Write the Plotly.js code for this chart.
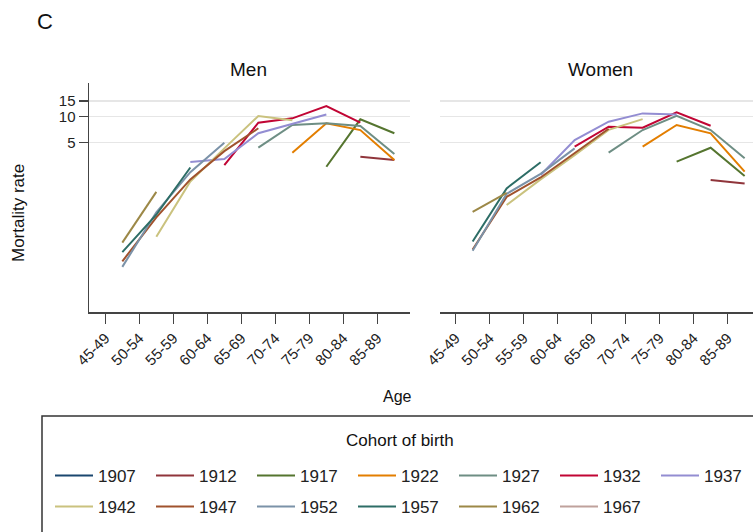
<!DOCTYPE html>
<html><head><meta charset="utf-8">
<script src="https://cdn.plot.ly/plotly-3.0.1.min.js"></script>
<style>html,body{margin:0;padding:0;background:#fff}#chart{width:753px;height:532px}</style>
</head><body><div id="chart"></div>
<script>
// Age groups: data plotted at the midpoint of each 5-year group
const ageMid = [47.5, 52.5, 57.5, 62.5, 67.5, 72.5, 77.5, 82.5, 87.5];
const ageTickVals = [45, 50, 55, 60, 65, 70, 75, 80, 85];
const ageTickText = ['45-49', '50-54', '55-59', '60-64', '65-69', '70-74', '75-79', '80-84', '85-89'];
const rateTickVals = [5, 10, 15];
const cohorts = ['1907', '1912', '1917', '1922', '1927', '1932', '1937', '1942', '1947', '1952', '1957', '1962', '1967'];
const cohortColors = ['#1a476f', '#90353b', '#55752f', '#e37e00', '#6e8e84', '#c10534', '#938dd2',
                      '#cac27e', '#a0522d', '#7b92a8', '#2d6d66', '#9c8847', '#bfa19c'];

// Men, mortality rate by age group (null = cohort not observed)
const men1907 = [null, null, null, null, null, null, null, null, 3.0];
const men1912 = [null, null, null, null, null, null, null, 3.45, 3.17];
const men1917 = [null, null, null, null, null, null, 2.65, 9.24, 6.4];
const men1922 = [null, null, null, null, null, 3.84, 8.32, 6.96, 3.17];
const men1927 = [null, null, null, null, 4.38, 7.95, 8.32, 7.74, 3.71];
const men1932 = [null, null, null, 2.77, 8.45, 9.49, 13.1, 8.45, null];
const men1937 = [null, null, 3.0, 3.25, 6.4, 8.2, 10.5, null, null];
const men1942 = [null, 0.42, 1.8, 4.3, 10.1, 9.0, null, null, null];
const men1947 = [0.22, 0.7, 1.9, 4.0, 7.3, null, null, null, null];
const men1952 = [0.19, 0.8, 2.3, 5.0, null, null, null, null, null];
const men1957 = [0.28, 0.75, 2.6, null, null, null, null, null, null];
const men1962 = [0.36, 1.37, null, null, null, null, null, null, null];
const men1967 = [0.24, null, null, null, null, null, null, null, null];

// Women
const women1907 = [null, null, null, null, null, null, null, null, 1.5];
const women1912 = [null, null, null, null, null, null, null, 1.87, 1.71];
const women1917 = [null, null, null, null, null, null, 3.03, 4.37, 2.08];
const women1922 = [null, null, null, null, null, 4.5, 7.96, 6.4, 2.33];
const women1927 = [null, null, null, null, 3.84, 6.97, 10.1, 6.97, 3.31];
const women1932 = [null, null, null, 4.5, 7.6, 7.4, 11.1, 7.8, null];
const women1937 = [null, null, 2.13, 5.36, 8.68, 10.8, 10.5, null, null];
const women1942 = [null, 0.97, 1.9, 3.6, 7.0, 9.3, null, null, null];
const women1947 = [0.30, 1.2, 2.0, 3.8, 7.2, null, null, null, null];
const women1952 = [0.29, 1.3, 2.2, 4.3, null, null, null, null, null];
const women1957 = [0.37, 1.5, 2.98, null, null, null, null, null, null];
const women1962 = [0.81, 1.33, null, null, null, null, null, null, null];
const women1967 = [0.3, null, null, null, null, null, null, null, null];

const menSeries = [men1907, men1912, men1917, men1922, men1927, men1932, men1937,
                   men1942, men1947, men1952, men1957, men1962, men1967];
const womenSeries = [women1907, women1912, women1917, women1922, women1927, women1932, women1937,
                     women1942, women1947, women1952, women1957, women1962, women1967];

const W = 753, H = 532;
const px = v => v / W;
const py = v => 1 - v / H;
const FONT = 'Liberation Sans, Arial, Helvetica, sans-serif';

const traces = [];
cohorts.forEach((c, i) => {
  traces.push({
    x: ageMid, y: menSeries[i], mode: 'lines', name: c, legendgroup: c,
    legend: i < 7 ? 'legend' : 'legend2',
    line: {color: cohortColors[i], width: 2}, xaxis: 'x', yaxis: 'y',
    connectgaps: false, hoverinfo: 'skip'
  });
});
cohorts.forEach((c, i) => {
  traces.push({
    x: ageMid, y: womenSeries[i], mode: 'lines', name: c, legendgroup: c, showlegend: false,
    line: {color: cohortColors[i], width: 2}, xaxis: 'x2', yaxis: 'y2',
    connectgaps: false, hoverinfo: 'skip'
  });
});

const xCommon = {
  tickmode: 'array', tickvals: ageTickVals, ticktext: ageTickText, tickangle: -45,
  ticks: 'outside', ticklen: 10, tickwidth: 1.5, tickcolor: '#444',
  showline: true, linecolor: '#444', linewidth: 1.5, showgrid: false, zeroline: false,
  tickfont: {family: FONT, size: 15, color: '#222'}, fixedrange: true
};
const yCommon = {
  type: 'log', range: [-1.237, 1.381], domain: [py(312), py(83)],
  tickmode: 'array', tickvals: rateTickVals, ticktext: rateTickVals.map(String),
  showgrid: true, gridcolor: '#e6e6e6', gridwidth: 1.5, zeroline: false, fixedrange: true
};

const legendCommon = {
  orientation: 'h', xanchor: 'left', yanchor: 'top', bgcolor: 'rgba(0,0,0,0)', borderwidth: 0,
  font: {family: FONT, size: 17, color: '#222'}, entrywidth: 48, entrywidthmode: 'pixels',
  itemwidth: 38, traceorder: 'normal', itemclick: false, itemdoubleclick: false
};

const layout = {
  width: W, height: H,
  margin: {l: 0, r: 0, t: 0, b: 0, autoexpand: false},
  paper_bgcolor: '#fff', plot_bgcolor: '#fff',
  font: {family: FONT, color: '#222'},
  xaxis: Object.assign({}, xCommon, {domain: [px(89), px(410)], range: [42.6, 89.8], anchor: 'y'}),
  xaxis2: Object.assign({}, xCommon, {domain: [px(440), 1], range: [42.7, 88.73], anchor: 'y2'}),
  yaxis: Object.assign({}, yCommon, {
    anchor: 'x', showline: true, linecolor: '#444', linewidth: 1.5,
    ticks: 'outside', ticklen: 9, tickwidth: 1.5, tickcolor: '#444',
    tickfont: {family: FONT, size: 15, color: '#222'}
  }),
  yaxis2: Object.assign({}, yCommon, {anchor: 'x2', showline: false, ticks: '', showticklabels: false}),
  showlegend: true,
  legend: Object.assign({}, legendCommon, {x: px(50), y: py(458)}),
  legend2: Object.assign({}, legendCommon, {x: px(50), y: py(489)}),
  shapes: [{
    type: 'rect', xref: 'paper', yref: 'paper',
    x0: px(42), x1: px(775), y0: py(570), y1: py(416),
    line: {color: '#333', width: 1.5}, fillcolor: 'rgba(0,0,0,0)', layer: 'below'
  }],
  annotations: [
    {text: 'C', x: px(45), y: py(21), xref: 'paper', yref: 'paper', showarrow: false,
     xanchor: 'center', yanchor: 'middle', font: {family: FONT, size: 22, color: '#111'}},
    {text: 'Men', x: px(248), y: py(70), xref: 'paper', yref: 'paper', showarrow: false,
     xanchor: 'center', yanchor: 'middle', font: {family: FONT, size: 19, color: '#111'}},
    {text: 'Women', x: px(600), y: py(70), xref: 'paper', yref: 'paper', showarrow: false,
     xanchor: 'center', yanchor: 'middle', font: {family: FONT, size: 19, color: '#111'}},
    {text: 'Mortality rate', x: px(18), y: py(213), xref: 'paper', yref: 'paper', showarrow: false,
     textangle: -90, xanchor: 'center', yanchor: 'middle', font: {family: FONT, size: 17, color: '#111'}},
    {text: 'Age', x: px(397), y: py(396), xref: 'paper', yref: 'paper', showarrow: false,
     xanchor: 'center', yanchor: 'middle', font: {family: FONT, size: 16, color: '#111'}},
    {text: 'Cohort of birth', x: px(400), y: py(440), xref: 'paper', yref: 'paper', showarrow: false,
     xanchor: 'center', yanchor: 'middle', font: {family: FONT, size: 17, color: '#111'}}
  ]
};

Plotly.newPlot('chart', traces, layout, {displayModeBar: false, staticPlot: true});
</script>
</body></html>
